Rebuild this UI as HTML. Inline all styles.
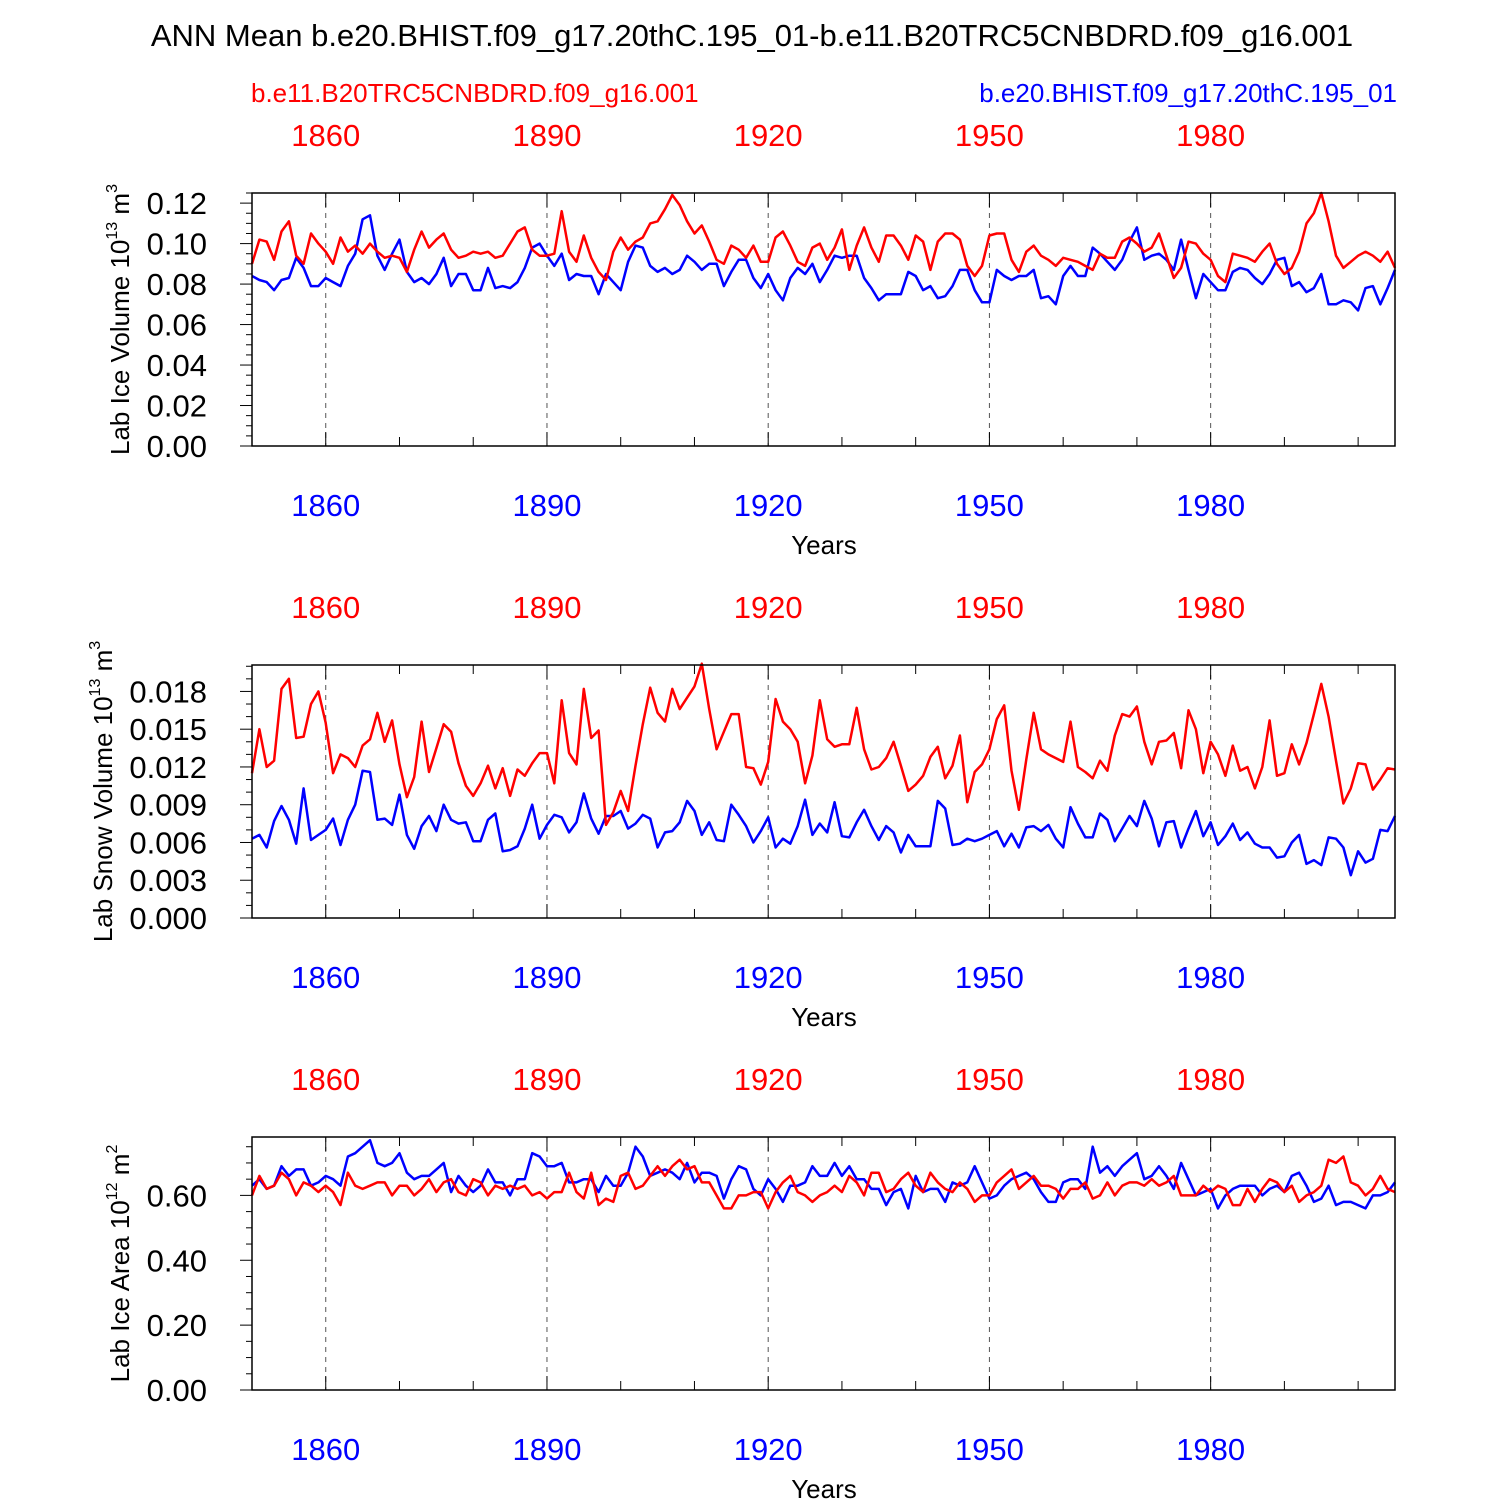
<!DOCTYPE html>
<html><head><meta charset="utf-8"><style>
html,body{margin:0;padding:0;background:#fff;}
svg{display:block;font-family:"Liberation Sans",Arial,sans-serif;}
</style></head><body>
<svg id="chart" width="1500" height="1500" viewBox="0 0 1500 1500">
<text x="752" y="46" font-size="31" text-anchor="middle">ANN Mean b.e20.BHIST.f09_g17.20thC.195_01-b.e11.B20TRC5CNBDRD.f09_g16.001</text>
<text x="251" y="102" font-size="26" fill="#f00">b.e11.B20TRC5CNBDRD.f09_g16.001</text>
<text x="1397" y="102" font-size="26" fill="#00f" text-anchor="end">b.e20.BHIST.f09_g17.20thC.195_01</text>
</svg>
<script>
const years0 = 1850, years1 = 2005;
const xTickYears = [1860, 1890, 1920, 1950, 1980];
const iceVolRed = [0.090,0.102,0.101,0.092,0.106,0.111,0.094,0.090,0.105,0.100,0.096,0.090,0.103,0.096,0.099,0.095,0.100,0.096,0.093,0.094,0.093,0.086,0.097,0.106,0.098,0.102,0.105,0.097,0.093,0.094,0.096,0.095,0.096,0.093,0.094,0.100,0.106,0.108,0.097,0.094,0.094,0.095,0.116,0.096,0.091,0.104,0.093,0.086,0.082,0.096,0.103,0.097,0.101,0.103,0.110,0.111,0.117,0.124,0.119,0.111,0.105,0.109,0.101,0.092,0.090,0.099,0.097,0.093,0.099,0.091,0.091,0.103,0.106,0.099,0.091,0.089,0.098,0.100,0.092,0.098,0.107,0.087,0.099,0.108,0.098,0.091,0.104,0.104,0.099,0.092,0.104,0.101,0.087,0.101,0.105,0.105,0.102,0.089,0.084,0.089,0.104,0.105,0.105,0.092,0.086,0.096,0.099,0.094,0.092,0.089,0.093,0.092,0.091,0.089,0.087,0.095,0.093,0.093,0.101,0.103,0.100,0.096,0.098,0.105,0.094,0.083,0.088,0.101,0.100,0.095,0.092,0.084,0.081,0.095,0.094,0.093,0.091,0.096,0.100,0.090,0.085,0.088,0.096,0.110,0.115,0.125,0.111,0.094,0.088,0.091,0.094,0.096,0.094,0.091,0.096,0.088];
const iceVolBlue = [0.084,0.082,0.081,0.077,0.082,0.083,0.093,0.088,0.079,0.079,0.083,0.081,0.079,0.089,0.095,0.112,0.114,0.094,0.087,0.095,0.102,0.086,0.081,0.083,0.080,0.085,0.093,0.079,0.085,0.085,0.077,0.077,0.088,0.078,0.079,0.078,0.081,0.088,0.098,0.100,0.094,0.089,0.095,0.082,0.085,0.084,0.084,0.075,0.085,0.081,0.077,0.091,0.099,0.098,0.089,0.086,0.088,0.085,0.087,0.094,0.091,0.087,0.090,0.090,0.079,0.086,0.092,0.092,0.083,0.078,0.085,0.077,0.072,0.083,0.088,0.085,0.090,0.081,0.087,0.094,0.093,0.094,0.094,0.083,0.078,0.072,0.075,0.075,0.075,0.086,0.084,0.077,0.079,0.073,0.074,0.079,0.087,0.087,0.077,0.071,0.071,0.087,0.084,0.082,0.084,0.084,0.087,0.073,0.074,0.070,0.084,0.089,0.084,0.084,0.098,0.095,0.091,0.087,0.092,0.101,0.108,0.092,0.094,0.095,0.092,0.087,0.102,0.087,0.073,0.085,0.081,0.077,0.077,0.086,0.088,0.087,0.083,0.080,0.085,0.092,0.093,0.079,0.081,0.076,0.078,0.085,0.070,0.070,0.072,0.071,0.067,0.078,0.079,0.070,0.078,0.087];
const snowVolRed = [11.5,15.0,12.0,12.5,18.2,19.0,14.3,14.4,17.0,18.0,15.5,11.5,13.0,12.7,12.0,13.7,14.2,16.3,14.0,15.7,12.2,9.6,11.2,15.6,11.6,13.5,15.4,14.8,12.3,10.5,9.7,10.7,12.1,10.3,11.9,9.7,11.8,11.3,12.3,13.1,13.1,10.7,17.3,13.1,12.2,18.2,14.3,14.9,7.4,8.4,10.1,8.5,12.1,15.4,18.3,16.3,15.6,18.2,16.6,17.5,18.4,20.2,16.6,13.4,14.8,16.2,16.2,12.0,11.9,10.6,12.4,17.4,15.6,15.0,14.0,10.7,12.9,17.3,14.2,13.6,13.8,13.8,16.7,13.4,11.8,12.0,12.7,14.0,12.1,10.1,10.6,11.3,12.8,13.6,11.1,12.1,14.5,9.2,11.6,12.2,13.4,15.8,16.9,11.7,8.6,12.6,16.3,13.4,13.0,12.7,12.4,15.6,12.0,11.6,11.1,12.5,11.7,14.5,16.2,16.0,16.8,14.0,12.2,14.0,14.1,14.7,11.9,16.5,15.0,11.5,14.0,13.0,11.3,13.7,11.7,12.0,10.3,12.0,15.7,11.3,11.5,13.8,12.2,13.9,16.2,18.6,16.0,12.5,9.1,10.3,12.3,12.2,10.2,11.0,11.9,11.8];
const snowVolBlue = [6.3,6.6,5.6,7.7,8.9,7.8,5.9,10.3,6.2,6.6,7.0,7.9,5.8,7.8,9.0,11.7,11.6,7.8,7.9,7.4,9.8,6.6,5.5,7.3,8.1,6.9,9.0,7.8,7.5,7.6,6.1,6.1,7.8,8.3,5.3,5.4,5.7,7.1,9.0,6.3,7.4,8.2,8.0,6.8,7.6,9.9,7.9,6.7,8.1,8.1,8.5,7.1,7.5,8.2,7.9,5.6,6.8,6.9,7.6,9.3,8.5,6.6,7.6,6.2,6.1,9.0,8.2,7.3,6.0,6.9,8.0,5.6,6.3,5.9,7.3,9.4,6.6,7.5,6.8,9.2,6.5,6.4,7.6,8.6,7.3,6.2,7.3,6.8,5.2,6.6,5.7,5.7,5.7,9.3,8.7,5.8,5.9,6.3,6.1,6.3,6.6,6.9,5.7,6.7,5.6,7.2,7.3,6.9,7.4,6.3,5.6,8.8,7.5,6.4,6.4,8.3,7.8,6.1,7.1,8.1,7.3,9.3,7.9,5.7,7.6,7.7,5.6,7.1,8.5,6.5,7.6,5.8,6.5,7.5,6.2,6.8,5.9,5.6,5.6,4.8,4.9,6.0,6.6,4.3,4.6,4.2,6.4,6.3,5.6,3.4,5.3,4.4,4.7,7.0,6.9,8.1];
const iceAreaRed = [0.60,0.66,0.62,0.63,0.67,0.65,0.60,0.64,0.63,0.61,0.63,0.61,0.57,0.67,0.63,0.62,0.63,0.64,0.64,0.60,0.63,0.63,0.60,0.62,0.65,0.61,0.64,0.65,0.61,0.60,0.65,0.64,0.60,0.63,0.62,0.63,0.62,0.63,0.60,0.61,0.59,0.61,0.61,0.67,0.61,0.59,0.67,0.57,0.59,0.58,0.66,0.67,0.62,0.63,0.66,0.69,0.66,0.69,0.71,0.68,0.69,0.64,0.64,0.60,0.56,0.56,0.60,0.60,0.61,0.61,0.56,0.61,0.64,0.66,0.61,0.60,0.58,0.60,0.61,0.63,0.61,0.66,0.64,0.60,0.67,0.67,0.61,0.62,0.65,0.67,0.63,0.61,0.67,0.64,0.62,0.61,0.64,0.62,0.58,0.60,0.60,0.64,0.66,0.68,0.62,0.64,0.66,0.63,0.63,0.62,0.59,0.62,0.62,0.64,0.59,0.60,0.64,0.60,0.63,0.64,0.64,0.63,0.65,0.63,0.64,0.66,0.60,0.60,0.60,0.63,0.61,0.63,0.62,0.57,0.57,0.62,0.58,0.62,0.65,0.64,0.61,0.63,0.58,0.60,0.61,0.63,0.71,0.70,0.72,0.64,0.63,0.60,0.62,0.66,0.62,0.61,0.64,0.63];
const iceAreaBlue = [0.63,0.65,0.62,0.63,0.69,0.66,0.68,0.68,0.63,0.64,0.66,0.65,0.63,0.72,0.73,0.75,0.77,0.70,0.69,0.70,0.73,0.67,0.65,0.66,0.66,0.68,0.70,0.61,0.66,0.63,0.61,0.63,0.68,0.64,0.64,0.60,0.65,0.65,0.73,0.72,0.69,0.69,0.70,0.64,0.64,0.65,0.65,0.61,0.66,0.63,0.63,0.67,0.75,0.72,0.66,0.67,0.68,0.67,0.65,0.70,0.64,0.67,0.67,0.66,0.59,0.65,0.69,0.68,0.62,0.60,0.65,0.62,0.58,0.63,0.63,0.64,0.69,0.66,0.66,0.70,0.66,0.69,0.65,0.65,0.62,0.62,0.57,0.61,0.62,0.56,0.66,0.61,0.62,0.62,0.58,0.64,0.63,0.64,0.69,0.64,0.59,0.60,0.63,0.65,0.66,0.67,0.65,0.61,0.58,0.58,0.64,0.65,0.65,0.62,0.75,0.67,0.69,0.66,0.69,0.71,0.73,0.65,0.66,0.69,0.66,0.62,0.70,0.65,0.60,0.61,0.62,0.56,0.60,0.62,0.63,0.63,0.63,0.60,0.62,0.63,0.61,0.66,0.67,0.63,0.58,0.59,0.63,0.57,0.58,0.58,0.57,0.56,0.60,0.60,0.61,0.64];
const yTicks1 = ["0.00","0.02","0.04","0.06","0.08","0.10","0.12"];
const yTicks2 = ["0.000","0.003","0.006","0.009","0.012","0.015","0.018"];
const yTicks3 = ["0.00","0.20","0.40","0.60"];

const NS = "http://www.w3.org/2000/svg";
const svg = document.getElementById("chart");
const X0 = 252, X1 = 1395;
const NY = years1 - years0 + 1;
function xScale(yr){ return X0 + (yr - years0) / (years1 - years0) * (X1 - X0); }
function mk(tag, attrs, parent){ const e = document.createElementNS(NS, tag); for (const k in attrs) e.setAttribute(k, attrs[k]); (parent||svg).appendChild(e); return e; }

const panels = [
  {name:"ice-volume", off:0, vmax:0.125, scale:1, ticks:yTicks1, major:0.02, minor:0.005, red:iceVolRed, blue:iceVolBlue, title:"Lab Ice Volume 10", sup:"13", unit:" m", usup:"3", tx:129},
  {name:"snow-volume", off:472, vmax:0.0201, scale:0.001, ticks:yTicks2, major:0.003, minor:0.001, red:snowVolRed, blue:snowVolBlue, title:"Lab Snow Volume 10", sup:"13", unit:" m", usup:"3", tx:112},
  {name:"ice-area", off:944, vmax:0.78, scale:1, ticks:yTicks3, major:0.2, minor:0.05, red:iceAreaRed, blue:iceAreaBlue, title:"Lab Ice Area 10", sup:"12", unit:" m", usup:"2", tx:129}
];

panels.forEach(p => {
  const top = 193 + p.off, bot = 446 + p.off;
  const g = mk("g", {});
  
  
  const yScale = v => bot - v / p.vmax * (bot - top);
  xTickYears.forEach(yr => {
    const gl = mk("line", {x1:xScale(yr), x2:xScale(yr), y1:top, y2:bot, stroke:"#555", "stroke-width":1, "stroke-dasharray":"5,5"}, g);
    
    
  });
  for (let yr = 1860; yr <= years1; yr += 10) {
    const len = xTickYears.includes(yr) ? 14 : 9;
    mk("line", {x1:xScale(yr), x2:xScale(yr), y1:bot, y2:bot-len, stroke:"#000", "stroke-width":1}, g);
    mk("line", {x1:xScale(yr), x2:xScale(yr), y1:top, y2:top+len, stroke:"#000", "stroke-width":1}, g);
  }
  const nMinor = Math.round(p.vmax / p.minor + 1e-9);
  for (let i = 0; i <= nMinor; i++) {
    const v = i * p.minor; if (v > p.vmax) break;
    const isMajor = Math.abs(v / p.major - Math.round(v / p.major)) < 1e-6;
    const y = yScale(v);
    mk("line", {x1:X0, x2:X0 - (isMajor ? 12 : 6), y1:y, y2:y, stroke:"#000", "stroke-width":1}, g);
  }
  p.ticks.forEach((t, i) => {
    const y = yScale(i * p.major);
    const tl = mk("text", {x:X0 - 45, y:y + 11, "font-size":31, "text-anchor":"end"}, g);
    tl.textContent = t;
    
    
  });
  xTickYears.forEach(yr => {
    const a = mk("text", {x:xScale(yr), y:top - 47, "font-size":31, fill:"#f00", "text-anchor":"middle"}, g);
    a.textContent = yr;
    
    
    const b = mk("text", {x:xScale(yr), y:bot + 70, "font-size":31, fill:"#00f", "text-anchor":"middle"}, g);
    b.textContent = yr;
    
    
  });
  const xt = mk("text", {x:824, y:bot + 108, "font-size":26, "text-anchor":"middle"}, g);
  xt.textContent = "Years";
  
  
  const cy = (top + bot) / 2;
  const yt = mk("text", {x:p.tx, y:cy, "font-size":26, "text-anchor":"middle", transform:`rotate(-90 ${p.tx} ${cy})`}, g);
  
  
  const t1 = mk("tspan", {}, yt); t1.textContent = p.title;
  const t2 = mk("tspan", {"font-size":16, dy:-12}, yt); t2.textContent = p.sup;
  const t3 = mk("tspan", {dy:12}, yt); t3.textContent = p.unit;
  const t4 = mk("tspan", {"font-size":16, dy:-12}, yt); t4.textContent = p.usup;
  [["blue", p.blue, "#00f"], ["red", p.red, "#f00"]].forEach(([nm, arr, col]) => {
    const pts = arr.slice(0, NY).map((v, i) => xScale(years0 + i).toFixed(1) + "," + yScale(v * p.scale).toFixed(1)).join(" ");
    const pl = mk("polyline", {points:pts, fill:"none", stroke:col, "stroke-width":2.5, "stroke-linejoin":"round"}, g);
    
    
  });
  const fr = mk("rect", {x:X0, y:top, width:X1 - X0, height:bot - top, fill:"none", stroke:"#000", "stroke-width":1.5}, g);
  
  
});
</script>
</body></html>
